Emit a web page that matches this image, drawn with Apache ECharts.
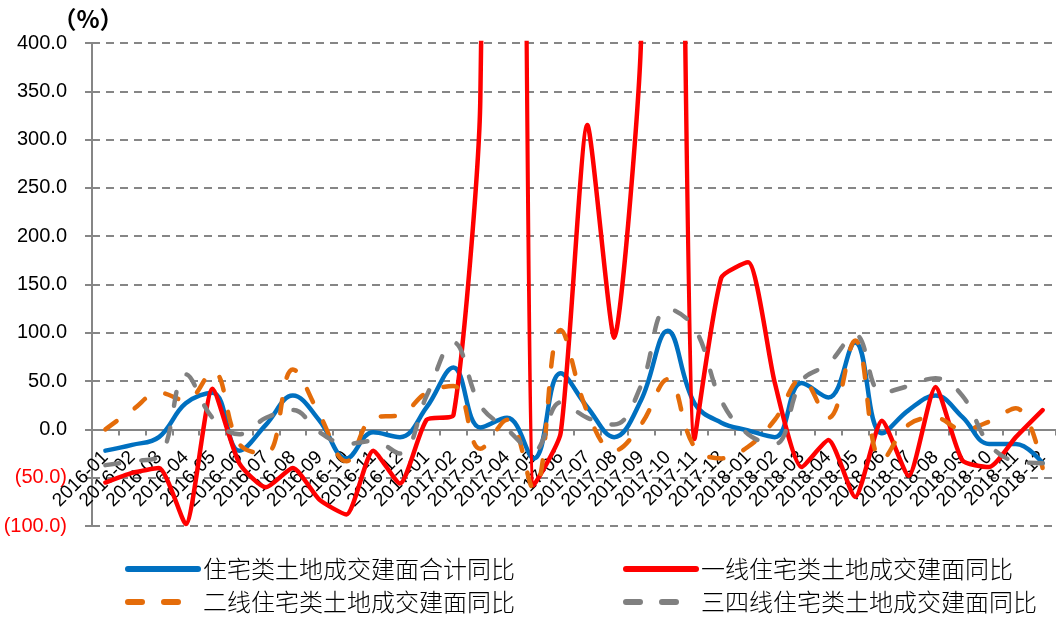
<!DOCTYPE html>
<html>
<head>
<meta charset="utf-8">
<script src="https://cdn.jsdelivr.net/npm/echarts@6/dist/echarts.min.js"></script>
<style>
  html, body { margin: 0; padding: 0; background: #fff; }
  #chart { width: 1056px; height: 619px; }
</style>
</head>
<body>
<div id="chart"></div>
<script>
// Monthly categories, Jan 2016 - Dec 2018
const months = [
  '2016-01','2016-02','2016-03','2016-04','2016-05','2016-06','2016-07','2016-08','2016-09','2016-10','2016-11','2016-12',
  '2017-01','2017-02','2017-03','2017-04','2017-05','2017-06','2017-07','2017-08','2017-09','2017-10','2017-11','2017-12',
  '2018-01','2018-02','2018-03','2018-04','2018-05','2018-06','2018-07','2018-08','2018-09','2018-10','2018-11','2018-12'
];

// Series names
const nameTotal = '住宅类土地成交建面合计同比';
const nameTier1 = '一线住宅类土地成交建面同比';
const nameTier2 = '二线住宅类土地成交建面同比';
const nameTier34 = '三四线住宅类土地成交建面同比';

// Year-on-year change of residential land transaction floor area (%)
const totalYoY = [
  -22, -16, -8, 27, 38, -22, 5, 35, 9, -30, -3, -8,
  23, 64, 2, 12, -30, 58, 23, -8, 30, 102, 27, 7,
  -1, -8, 48, 33, 90, -4, 20, 35, 13, -15, -15, -35
];
const tier1YoY = [
  -55, -45, -40, -98, 42, -35, -60, -40, -73, -88, -22, -56,
  10, 15, 340, 3500, -58, -4, 315, 95, 400, 1800, -10, 157,
  173, 48, -39, -11, -70, 9, -48, 44, -32, -39, -8, 20
];
const tier2YoY = [
  0, 20, 38, 30, 60, -15, -25, 62, 15, -33, 12, 15,
  38, 45, -20, 10, -62, 103, 18, -22, 5, 52, -18, -30,
  -18, 10, 52, 12, 92, -32, 5, 12, 0, 8, 22, -40
];
const tier34YoY = [
  -37, -33, -28, 57, 12, -5, 12, 20, -3, -15, -12, -25,
  35, 90, 25, 0, -22, 28, 12, 5, 45, 125, 105, 30,
  -5, -15, 50, 68, 98, 38, 45, 53, 35, -15, -33, -35
];

// Value axis range
const yMin = -100;
const yMax = 400;
const yStep = 50;

const chart = echarts.init(document.getElementById('chart'), null, { renderer: 'canvas' });

const axisGray = '#868686';
const latin = '"Liberation Sans", Arial, sans-serif';
const cjk = '"Noto Sans CJK SC", sans-serif';

// Grid geometry: the category axis sits on the zero line
const gridTop = 43;
const gridHeight = 483;
const zeroOffset = -gridHeight * (0 - yMin) / (yMax - yMin);

function lineSeries(name, data, color, dash, smooth) {
  return {
    name: name,
    type: 'line',
    data: data,
    smooth: smooth,
    symbol: 'none',
    showSymbol: false,
    clip: true,
    lineStyle: {
      color: color,
      width: 4.5,
      type: dash || 'solid',
      cap: 'round',
      join: 'round'
    },
    itemStyle: { color: color },
    emphasis: { disabled: true }
  };
}

function legendAt(name, left, top) {
  return {
    data: [name],
    left: left,
    top: top,
    padding: 0,
    orient: 'horizontal',
    itemWidth: 70,
    itemHeight: 14,
    selectedMode: false,
    itemStyle: { opacity: 0 },
    lineStyle: { width: 6, cap: 'round', type: 'inherit' },
    textStyle: { fontFamily: cjk, fontSize: 24, color: '#000', fontWeight: 300 }
  };
}

chart.setOption({
  animation: false,
  backgroundColor: '#fff',
  grid: { left: 92, top: gridTop, width: 975, height: gridHeight, containLabel: false },
  legend: [
    legendAt(nameTotal, 125, 557),
    legendAt(nameTier1, 623, 557),
    legendAt(nameTier2, 125, 590),
    legendAt(nameTier34, 623, 590)
  ],
  xAxis: {
    type: 'category',
    data: months,
    boundaryGap: true,
    position: 'bottom',
    offset: zeroOffset,
    axisLine: { onZero: false, lineStyle: { color: axisGray, width: 2 } },
    axisTick: { show: true, alignWithLabel: false, length: 6, lineStyle: { color: axisGray, width: 2 } },
    axisLabel: {
      interval: 0,
      rotate: 45,
      margin: 25,
      color: '#000',
      fontFamily: latin,
      fontSize: 19
    },
    splitLine: { show: false }
  },
  yAxis: {
    type: 'value',
    min: yMin,
    max: yMax,
    interval: yStep,
    name: '（%）',
    nameLocation: 'end',
    nameGap: 12,
    nameTextStyle: {
      fontFamily: cjk,
      fontSize: 24,
      fontWeight: 'bold',
      color: '#000',
      align: 'center',
      padding: [0, 8, 0, 0]
    },
    axisLine: { show: true, lineStyle: { color: axisGray, width: 2 } },
    axisTick: { show: true, length: 7, lineStyle: { color: axisGray, width: 2 } },
    axisLabel: {
      margin: 25,
      color: '#000',
      fontFamily: latin,
      fontSize: 20,
      formatter: function (v) {
        return v < 0 ? '{neg|(' + Math.abs(v).toFixed(1) + ')}' : v.toFixed(1);
      },
      rich: {
        neg: { color: '#ff0000', fontFamily: latin, fontSize: 20 }
      }
    },
    splitLine: {
      show: true,
      lineStyle: { color: axisGray, width: 2, type: [8, 6] }
    }
  },
  series: [
    lineSeries(nameTotal, totalYoY, '#0070c0', null, 0.4),
    lineSeries(nameTier1, tier1YoY, '#ff0000', null, 0.2),
    lineSeries(nameTier2, tier2YoY, '#e46c0a', [14, 22], 0.4),
    lineSeries(nameTier34, tier34YoY, '#808080', [14, 22], 0.4)
  ]
});
</script>
</body>
</html>
